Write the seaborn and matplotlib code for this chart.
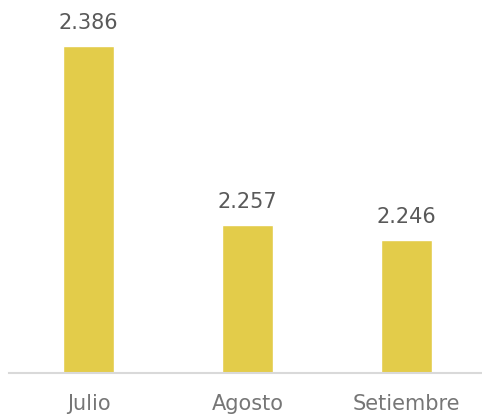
import pandas as pd
import matplotlib
matplotlib.use('Agg')
import matplotlib.pyplot as plt
import seaborn as sns

# Monthly values (shown with a dot as thousands separator)
months = ['Julio', 'Agosto', 'Setiembre']
values = [2386, 2257, 2246]

bar_color = '#E3CC4A'
value_color = '#595959'
label_color = '#767676'

sns.set_style('white')
plt.rcParams['font.family'] = ['DejaVu Sans']

df = pd.DataFrame({'mes': months, 'valor': values})

fig = plt.figure(figsize=(4.82, 4.17), dpi=100)
ax = fig.add_axes([9 / 482, 44 / 417, 477 / 482, 373 / 417])

sns.barplot(data=df, x='mes', y='valor', color=bar_color, width=0.32,
            saturation=1, ax=ax)

ax.set_ylim(2150, 2419)

# Value labels above the bars
for i, v in enumerate(values):
    label = f'{v:,}'.replace(',', '.')
    ax.annotate(label, (i, v), xytext=(0, 9), textcoords='offset points',
                ha='center', va='bottom', fontsize=15, color=value_color)

ax.set_xlabel('')
ax.set_ylabel('')
ax.set_yticks([])
ax.tick_params(axis='x', length=0, pad=15, labelsize=15, labelcolor=label_color)

for side in ['top', 'right', 'left']:
    ax.spines[side].set_visible(False)
ax.spines['bottom'].set_color('#D9D9D9')
ax.spines['bottom'].set_linewidth(1.5)

fig.savefig('out.png', dpi=100)
plt.close()
